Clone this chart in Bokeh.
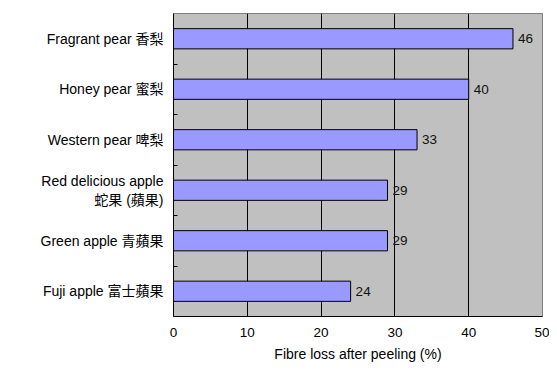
from bokeh.plotting import figure
from bokeh.models import ColumnDataSource, FixedTicker, Range1d
from bokeh.core.properties import value
from bokeh.embed import file_html
from bokeh.resources import INLINE

# data, top to bottom
categories = ["Fragrant pear 香梨", "Honey pear 蜜梨", "Western pear 啤梨",
              "Red delicious apple\n蛇果 (蘋果)", "Green apple 青蘋果", "Fuji apple 富士蘋果"]
fibre_loss = [46, 40, 33, 29, 29, 24]
x_ticks = [0, 10, 20, 30, 40, 50]
x_title = "Fibre loss after peeling (%)"

n = len(categories)
ypos = [n - 0.5 - i for i in range(n)]
FONT = "Liberation Sans, Arial, Noto Sans CJK TC, sans-serif"

src = ColumnDataSource(dict(y=ypos, v=fibre_loss, lbl=[str(v) for v in fibre_loss]))

p = figure(width=549, height=365, output_backend="svg", toolbar_location=None,
           x_range=Range1d(0, 50), y_range=Range1d(0, n),
           min_border_left=173, min_border_right=7, min_border_top=13, min_border_bottom=49)
p.background_fill_color = "#C0C0C0"
p.border_fill_color = "white"
p.outline_line_color = "#808080"
p.outline_line_width = 1

p.hbar(y="y", left=0, right="v", height=0.4, source=src,
       fill_color="#9999FF", line_color="black", line_width=1)
p.text(x="v", y="y", text="lbl", source=src, x_offset=5,
       text_align="left", text_baseline="middle",
       text_font=value(FONT), text_font_size="13.5px", text_color="#111111")

# x axis
p.xaxis.ticker = FixedTicker(ticks=x_ticks)
p.xaxis.axis_label = x_title
p.xaxis.axis_label_text_font = FONT
p.xaxis.axis_label_text_font_style = "normal"
p.xaxis.axis_label_text_font_size = "14px"
p.xaxis.axis_label_text_color = "black"
p.xaxis.axis_label_standoff = 6
p.xaxis.major_label_text_font = FONT
p.xaxis.major_label_text_font_size = "13.5px"
p.xaxis.major_label_text_color = "black"
p.xaxis.major_label_standoff = 11
p.xaxis.major_tick_out = 0
p.xaxis.major_tick_in = 0
p.xaxis.minor_tick_out = 0
p.xaxis.minor_tick_in = 0
p.xaxis.axis_line_color = "black"

# y axis
p.yaxis.ticker = FixedTicker(ticks=ypos, minor_ticks=[float(i) for i in range(1, n)])
p.yaxis.major_label_overrides = {y: c for y, c in zip(ypos, categories)}
p.yaxis.major_label_text_font = FONT
p.yaxis.major_label_text_font_size = "14px"
p.yaxis.major_label_text_color = "black"
p.yaxis.major_label_text_align = "right"
p.yaxis.major_label_standoff = 10
p.yaxis.major_tick_out = 0
p.yaxis.major_tick_in = 0
p.yaxis.minor_tick_out = 0
p.yaxis.minor_tick_in = 4
p.yaxis.minor_tick_line_color = "black"
p.yaxis.axis_line_color = "black"

p.xgrid.ticker = FixedTicker(ticks=x_ticks)
p.xgrid.grid_line_color = "black"
p.xgrid.grid_line_width = 1
p.ygrid.grid_line_color = None

open("out.html", "w").write(file_html(p, INLINE))
